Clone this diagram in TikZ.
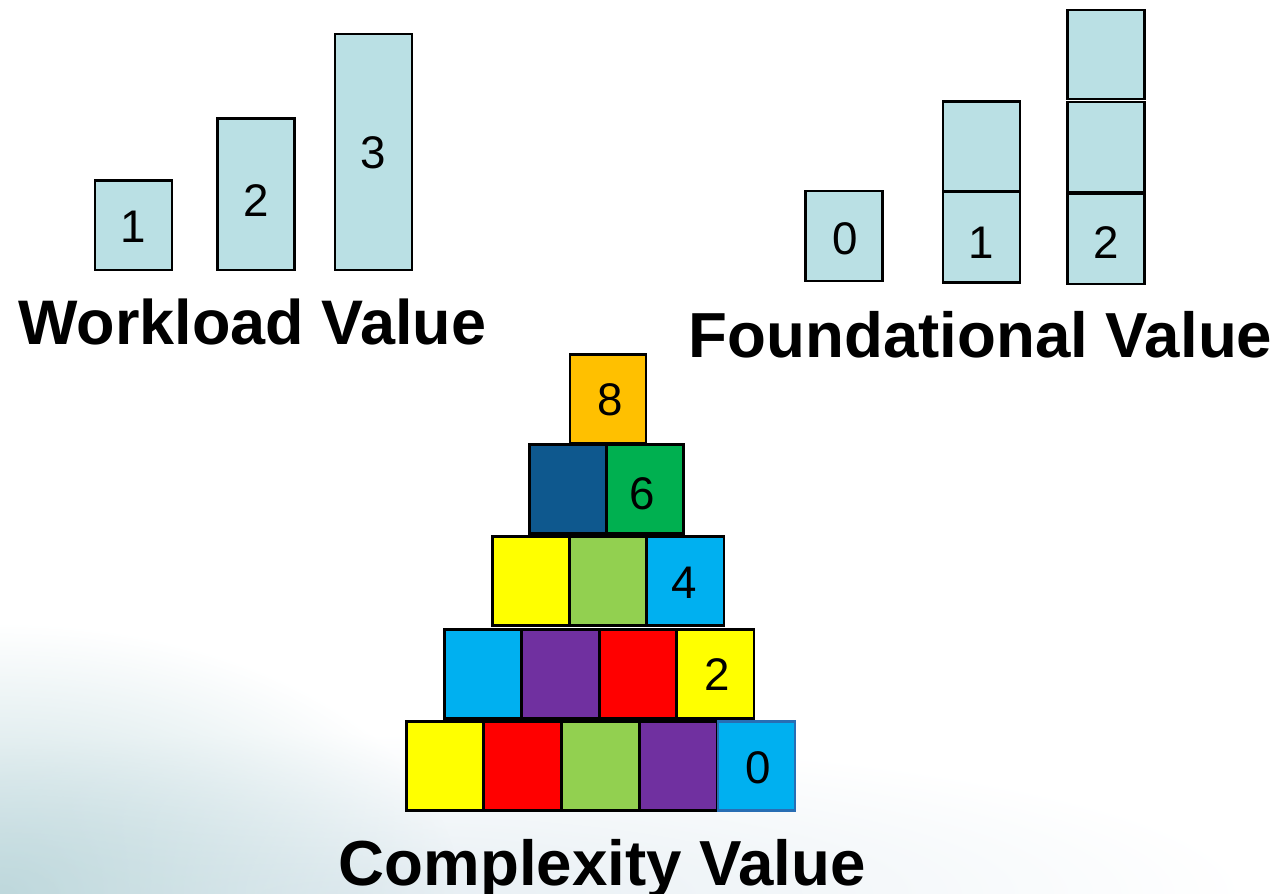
\documentclass[tikz,border=0pt]{standalone}
\usepackage{fontspec}
\setmainfont{Liberation Sans}
\usetikzlibrary{fadings}
\tikzstyle{box} = [rectangle,draw,line width=.7pt,minimum width=.77cm,minimum height=.89cm,inner sep=0pt]
\tikzstyle{num} = [inner sep=0pt,font=\fontsize{13}{13}\selectfont]
\tikzstyle{title} = [inner sep=0pt,anchor=base west,font=\fontsize{18.1}{18}\selectfont\bfseries]
\tikzfading[name=softfade,inner color=transparent!0,outer color=transparent!100]
\definecolor{aqua}{RGB}{186,224,228}
\definecolor{corange}{RGB}{255,192,0}
\definecolor{cnavy}{RGB}{14,88,142}
\definecolor{cgreen}{RGB}{0,176,80}
\definecolor{cyellow}{RGB}{255,255,0}
\definecolor{clime}{RGB}{146,208,80}
\definecolor{csky}{RGB}{0,176,240}
\definecolor{cpurple}{RGB}{112,48,160}
\definecolor{cred}{RGB}{255,0,0}
\definecolor{skyedge}{RGB}{40,110,180}
\definecolor{bgteal}{RGB}{190,216,220}
\definecolor{bgfaint}{RGB}{230,238,243}

\begin{document}
\begin{tikzpicture}[x=0.01cm,y=-0.01cm]
		\useasboundingbox (0,0) rectangle (1278,894);
		% slide background
		\begin{scope}
		\clip (0,0) rectangle (1278,894);
		\fill[bgfaint,path fading=softfade] (350,894) ellipse (9cm and 1.6cm);
		\fill[bgteal,path fading=softfade] (0,894) ellipse (4.6cm and 2.7cm);
		\end{scope}
		
		% workload
		\node [box,fill=aqua,minimum height=.893cm](w1) at (133.3,225.3){};
		\node [box,fill=aqua,minimum height=1.517cm](w2) at (255.8,194.2){};
		\node [box,fill=aqua,minimum height=2.36cm](w3) at (373.5,152){};
		\node [num](wn1) at (133,227){1};
		\node [num](wn2) at (256,201){2};
		\node [num](wn3) at (373,153){3};
		\node [title,font=\fontsize{17.9}{18}\selectfont\bfseries](wv) at (18,345){Workload Value};
		
		% foundational
		\node [box,fill=aqua,minimum height=.9cm](f0) at (844,235.8){};
		\node [box,fill=aqua,minimum height=.91cm](f1) at (981.3,237.2){};
		\node [box,fill=aqua,minimum height=.9cm,above of=f1,node distance=.907cm](f1b){};
		\node [box,fill=aqua,minimum height=.9cm](f2) at (1106,239){};
		\node [box,fill=aqua,minimum height=.9cm,above of=f2,node distance=.92cm](f2b){};
		\node [box,fill=aqua,minimum height=.89cm,above of=f2b,node distance=.925cm](f2c){};
		\node [num](fn0) at (845,239){0};
		\node [num](fn1) at (981,243){1};
		\node [num](fn2) at (1106,243){2};
		\node [title](fv) at (688,357){Foundational Value};
		
		% complexity pyramid
		\begin{scope}[node distance=.778cm]
		\node [box,fill=cyellow](p51) at (444.9,766){};
		\node [box,fill=cred,right of=p51](p52){};
		\node [box,fill=clime,right of=p52](p53){};
		\node [box,fill=cpurple,right of=p53](p54){};
		\node [box,fill=csky,draw=skyedge,right of=p54](p55){};
		\end{scope}
		\begin{scope}[node distance=.774cm]
		\node [box,fill=csky](p41) at (483,673.8){};
		\node [box,fill=cpurple,right of=p41](p42){};
		\node [box,fill=cred,right of=p42](p43){};
		\node [box,fill=cyellow,right of=p43](p44){};
		\end{scope}
		\begin{scope}[node distance=.772cm]
		\node [box,fill=cyellow](p31) at (530.9,581.2){};
		\node [box,fill=clime,right of=p31](p32){};
		\node [box,fill=csky,right of=p32](p33){};
		\node [box,fill=cnavy](p21) at (567.9,488.8){};
		\node [box,fill=cgreen,right of=p21](p22){};
		\end{scope}
		\node [box,fill=corange,minimum width=.757cm](p11) at (607.9,399){};
		\node [num](pn8) at (610,400){8};
		\node [num](pn6) at (642,494){6};
		\node [num](pn4) at (684.5,583){4};
		\node [num](pn2) at (717,675){2};
		\node [num](pn0) at (758,768){0};
		\node [title](cv) at (338,885){Complexity Value};
\end{tikzpicture}
\end{document}
